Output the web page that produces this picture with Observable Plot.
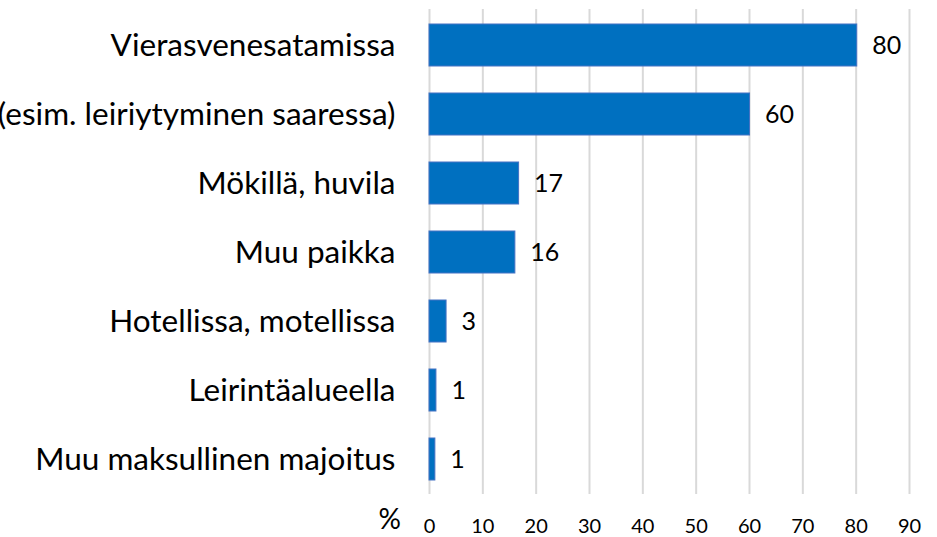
<!DOCTYPE html>
<html>
<head>
<meta charset="utf-8">
<script src="https://cdn.jsdelivr.net/npm/d3@7"></script>
<script src="https://cdn.jsdelivr.net/npm/@observablehq/plot@0.6"></script>
<style>
  html, body { margin: 0; padding: 0; background: #fff; }
  #chart { width: 937px; height: 537px; overflow: hidden; }
  svg { font-family: Lato, "Open Sans", sans-serif; }
</style>
</head>
<body>
<div id="chart"></div>
<script>
const categories = [
  "Vierasvenesatamissa",
  "Luonnonsatamassa (esim. leiriytyminen saaressa)",
  "Mökillä, huvila",
  "Muu paikka",
  "Hotellissa, motellissa",
  "Leirintäalueella",
  "Muu maksullinen majoitus"
];
const values = [80.2, 60.1, 16.8, 16.1, 3.2, 1.3, 1.1];
const valueLabels = ["80", "60", "17", "16", "3", "1", "1"];
const xTicks = [0, 10, 20, 30, 40, 50, 60, 70, 80, 90];
const axisUnit = "%";

const data = categories.map((c, i) => ({category: c, value: values[i], label: valueLabels[i]}));

const chart = Plot.plot({
  width: 937,
  height: 537,
  marginLeft: 429,
  marginRight: 28,
  marginTop: 9,
  marginBottom: 43,
  style: {background: "#fff", color: "#000"},
  x: {domain: [0, 90], ticks: xTicks, label: null},
  y: {domain: categories, paddingInner: 0.395, paddingOuter: 0.2, label: null},
  marks: [
    Plot.ruleX(xTicks, {stroke: "#D9D9D9", strokeWidth: 2}),
    Plot.barX(data, {y: "category", x: "value", fill: "#0070C0", stroke: "#4472C4", strokeWidth: 1}),
    Plot.text(data, {y: "category", x: "value", text: "label", dx: 15, textAnchor: "start", fontSize: 25, fill: "#000"}),
    Plot.axisY({tickSize: 0, tickPadding: 34, fontSize: 31.5, label: null}),
    Plot.axisX({ticks: xTicks, tickSize: 0, tickPadding: 24, fontSize: 20, label: null}),
    Plot.text([axisUnit], {frameAnchor: "bottom-left", dx: -51, dy: 34, fontSize: 28, text: d => d, fill: "#000"})
  ]
});
document.getElementById("chart").appendChild(chart);
</script>
</body>
</html>
